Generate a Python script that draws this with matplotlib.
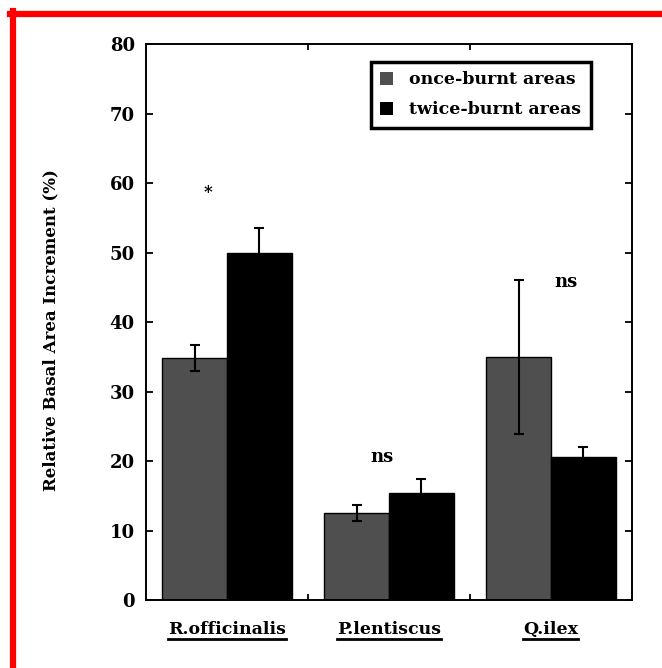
import numpy as np
import matplotlib
matplotlib.use("Agg")
import matplotlib.pyplot as plt
from matplotlib.lines import Line2D
from matplotlib.patches import Patch

# Data
species = ["R.officinalis", "P.lentiscus", "Q.ilex"]
once = [34.8, 12.5, 35.0]
once_err = [1.9, 1.2, 11.1]
twice = [50.0, 15.4, 20.6]
twice_err = [3.5, 2.0, 1.4]
sig_labels = ["*", "ns", "ns"]
sig_x = [-0.12, 0.96, 2.09]
sig_y = [58.6, 20.6, 45.7]
series_names = ["once-burnt areas", "twice-burnt areas"]

font = "DejaVu Serif"
plt.rcParams["font.family"] = font

fig = plt.figure(figsize=(6.62, 6.68), dpi=100)
ax = fig.add_axes([0.2205, 0.1018, 0.7341, 0.8323])

x = np.arange(len(species))
w = 0.4
grey = "#4f4f4f"
ax.bar(x - w / 2, once, w, color=grey, edgecolor="black", linewidth=1.0, zorder=2)
ax.bar(x + w / 2, twice, w, color="black", edgecolor="black", linewidth=1.0, zorder=2)
ax.errorbar(x - w / 2, once, yerr=once_err, fmt="none", ecolor="black",
            elinewidth=1.5, capsize=3.5, capthick=1.5, zorder=3)
ax.errorbar(x + w / 2, twice, yerr=twice_err, fmt="none", ecolor="black",
            elinewidth=1.5, capsize=3.5, capthick=1.5, zorder=3)

for sx, sy, s in zip(sig_x, sig_y, sig_labels):
    if s == "*":
        ax.text(sx, sy, s, ha="center", va="center", fontsize=12, fontweight="bold")
    else:
        ax.text(sx, sy, s, ha="center", va="center", fontsize=13, fontweight="bold")

ax.set_xlim(-0.5, 2.5)
ax.set_ylim(0, 80)
ax.set_yticks(np.arange(0, 81, 10))
ax.tick_params(axis="y", direction="in", length=5, width=1.3, right=True, pad=8,
               labelsize=13)
for lab in ax.get_yticklabels():
    lab.set_fontweight("bold")

ax.set_xticks(x)
ax.set_xticklabels(species, fontsize=12.5, fontweight="bold")
ax.tick_params(axis="x", which="major", length=0, pad=15)
ax.set_xticks([0.5, 1.5], minor=True)
ax.tick_params(axis="x", which="minor", direction="in", length=4, width=1.3, top=True)

for sp in ax.spines.values():
    sp.set_linewidth(1.4)

ax.set_ylabel("Relative Basal Area Increment (%)", fontsize=12, fontweight="bold")
ax.yaxis.set_label_coords(-0.178, 0.485)

handles = [Patch(facecolor=grey, edgecolor="none"), Patch(facecolor="black", edgecolor="none")]
leg = ax.legend(handles, series_names, loc="upper right", bbox_to_anchor=(0.915, 0.968),
                prop={"weight": "bold", "size": 12.5}, frameon=True, fancybox=False,
                framealpha=1, handlelength=0.75, handleheight=0.75, handletextpad=0.9,
                labelspacing=0.75, borderpad=0.55, borderaxespad=0)
leg.get_frame().set_edgecolor("black")
leg.get_frame().set_linewidth(2.5)

# underline the category labels
fig.canvas.draw()
r = fig.canvas.get_renderer()
for lab in ax.get_xticklabels():
    bb = lab.get_window_extent(r)
    yl = (bb.y0 - 1) / fig.bbox.height
    fig.add_artist(Line2D([bb.x0 / fig.bbox.width, bb.x1 / fig.bbox.width], [yl, yl],
                          color="black", linewidth=2))

# red frame (top and left)
fig.add_artist(Line2D([0.015, 1.0], [1 - 13.5 / 668, 1 - 13.5 / 668], color="red", linewidth=4.5))
fig.add_artist(Line2D([13 / 662, 13 / 662], [0, 1 - 11 / 668], color="red", linewidth=4.5))

fig.savefig("out.png", dpi=100)
